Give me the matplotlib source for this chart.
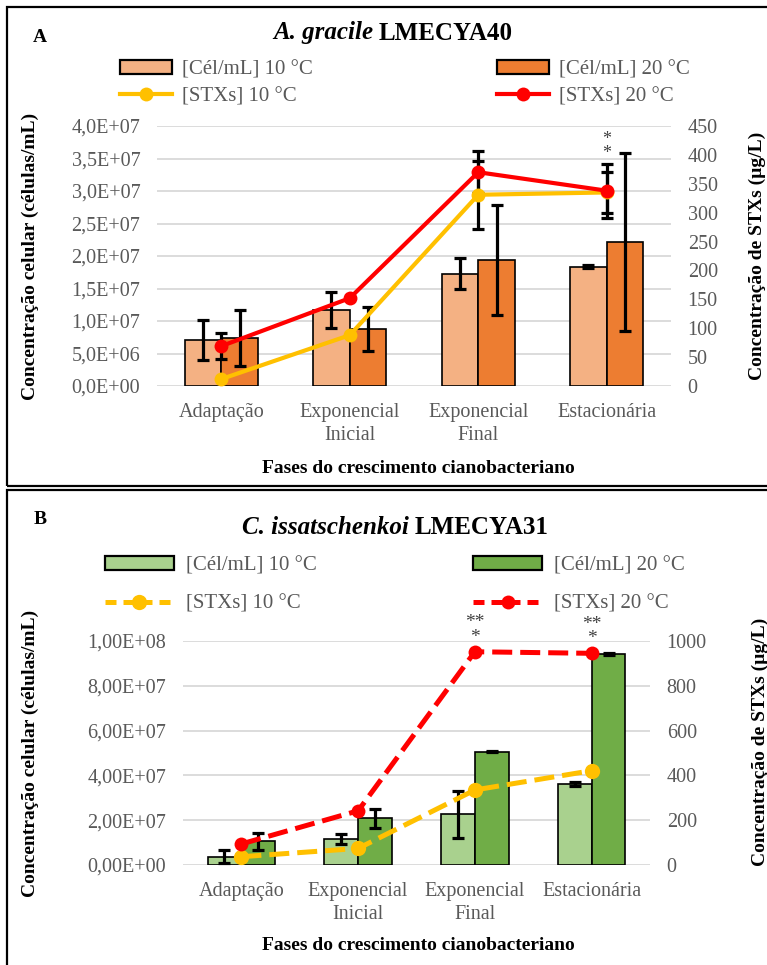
import numpy as np
import matplotlib
matplotlib.use("Agg")
import matplotlib.pyplot as plt
from matplotlib.patches import Rectangle, Patch
from matplotlib.lines import Line2D
from matplotlib.ticker import FuncFormatter

plt.rcParams["font.family"] = ["Liberation Serif", "DejaVu Serif"]

W, H = 767, 965

phases = ["Adaptação", "Exponencial\nInicial", "Exponencial\nFinal", "Estacionária"]

# painel A - A. gracile LMECYA40
cel10_a = [7.1e6, 1.17e7, 1.73e7, 1.835e7]
cel10_a_err = [3.1e6, 2.8e6, 2.35e6, 2.0e5]
cel20_a = [7.4e6, 8.8e6, 1.94e7, 2.215e7]
cel20_a_err = [4.3e6, 3.4e6, 8.5e6, 1.37e7]
stx10_a = [12, 88, 331, 335]
stx10_a_err = [0, 0, 59, 36]
stx20_a = [69, 152, 370, 338]
stx20_a_err = [22, 0, 36, 47]

# painel B - C. issatschenkoi LMECYA31
cel10_b = [3.7e6, 1.15e7, 2.26e7, 3.62e7]
cel10_b_err = [3.0e6, 2.2e6, 1.05e7, 1.0e6]
cel20_b = [1.06e7, 2.08e7, 5.06e7, 9.42e7]
cel20_b_err = [3.7e6, 4.2e6, 3.0e5, 3.0e5]
stx10_b = [37, 74, 335, 421]
stx20_b = [94, 242, 952, 945]

GRAY = "#595959"


def px_box(x0, y0, x1, y1):
    return [x0 / W, 1 - y1 / H, (x1 - x0) / W, (y1 - y0) / H]


def sci_fmt(decimals):
    return FuncFormatter(lambda v, p: f"{v:.{decimals}E}".replace(".", ","))


def style_axes(ax, ax2):
    for a in (ax, ax2):
        for s in a.spines.values():
            s.set_visible(False)
        a.tick_params(length=0, labelsize=14.5, labelcolor=GRAY)
    ax.tick_params(axis="y", pad=12)
    ax2.tick_params(axis="y", pad=12)
    ax.tick_params(axis="x", pad=12)
    ax.set_axisbelow(True)
    ax.grid(axis="y", color="#D9D9D9", lw=1.3)
    ax.set_xticks(range(len(phases)))
    ax.set_xticklabels(phases, linespacing=1.3)
    ax.set_xlim(-0.5, len(phases) - 0.5)


def draw_bars(ax, v10, e10, v20, e20, c10, c20, w):
    x = np.arange(len(phases))
    ax.bar(x - w / 2, v10, w, color=c10, edgecolor="black", lw=1.2, zorder=2)
    ax.bar(x + w / 2, v20, w, color=c20, edgecolor="black", lw=1.2, zorder=2)
    ek = dict(fmt="none", ecolor="black", elinewidth=2.3, capsize=4.5, capthick=2.3, zorder=3)
    ax.errorbar(x - w / 2, v10, yerr=e10, **ek)
    ax.errorbar(x + w / 2, v20, yerr=e20, **ek)


def title(xc, yc, italic, rest):
    t1 = fig.text(0, 0, italic, fontsize=18, fontweight="bold", fontstyle="italic",
                  ha="left", va="center")
    t2 = fig.text(0, 0, rest, fontsize=18, fontweight="bold", ha="left", va="center")
    r = fig.canvas.get_renderer()
    w1 = t1.get_window_extent(r).width
    w2 = t2.get_window_extent(r).width
    gap = 6
    x0 = xc - (w1 + gap + w2) / 2
    t1.set_position((x0 / W, 1 - yc / H))
    t2.set_position(((x0 + w1 + gap) / W, 1 - yc / H))


fig = plt.figure(figsize=(W / 100, H / 100), dpi=100)

# molduras dos paineis
fig.patches.append(Rectangle((7 / W, 1 - 485.5 / H), 1.1, 478.5 / H, transform=fig.transFigure,
                             fill=False, ec="black", lw=1.6))
fig.patches.append(Rectangle((7 / W, -0.05), 1.1, 1 - 490 / H + 0.05, transform=fig.transFigure,
                             fill=False, ec="black", lw=1.6))

# ---------- painel A ----------
axA = fig.add_axes(px_box(157, 126, 671, 386))
axA2 = axA.twinx()
style_axes(axA, axA2)
draw_bars(axA, cel10_a, cel10_a_err, cel20_a, cel20_a_err, "#F4B183", "#ED7D31", 0.285)
axA.set_ylim(0, 4.0e7)
axA.set_yticks(np.arange(0, 4.01e7, 5e6))
axA.yaxis.set_major_formatter(sci_fmt(1))
axA2.set_ylim(0, 450)
axA2.set_yticks(np.arange(0, 451, 50))

xa = np.arange(len(phases))
sel = np.array(stx20_a_err) > 0
axA2.errorbar(xa[sel], np.array(stx20_a)[sel], yerr=np.array(stx20_a_err)[sel], fmt="none",
              ecolor="black", elinewidth=2.3, capsize=4.5, capthick=2.3, zorder=2)
sel = np.array(stx10_a_err) > 0
axA2.errorbar(xa[sel], np.array(stx10_a)[sel], yerr=np.array(stx10_a_err)[sel], fmt="none",
              ecolor="black", elinewidth=2.3, capsize=4.5, capthick=2.3, zorder=2)
axA2.plot(xa, stx10_a, color="#FFC000", lw=3, marker="o", ms=10, mew=0, zorder=3)
axA2.plot(xa, stx20_a, color="#FF0000", lw=3, marker="o", ms=10, mew=0, zorder=4)
axA2.text(3, 415, "*\n*", ha="center", va="center", fontsize=13, color="#404040",
          linespacing=0.75)

handlesA = [
    Patch(fc="#F4B183", ec="black", lw=1.6),
    Line2D([], [], color="#FFC000", lw=3, marker="o", ms=10, mew=0),
    Patch(fc="#ED7D31", ec="black", lw=1.6),
    Line2D([], [], color="#FF0000", lw=3, marker="o", ms=10, mew=0),
]
labelsA = ["[Cél/mL] 10 °C", "[STXs] 10 °C", "[Cél/mL] 20 °C", "[STXs] 20 °C"]
legA = fig.legend(handlesA, labelsA, ncol=2, loc="upper left", bbox_to_anchor=(120 / W, 1 - 60 / H),
                  frameon=False, fontsize=15, labelcolor=GRAY, handlelength=2.5, handleheight=0.65,
                  handletextpad=0.5, columnspacing=8.8, labelspacing=0.38, numpoints=1,
                  borderpad=0, borderaxespad=0)

title(393, 33, "A. gracile", "LMECYA40")
fig.text(40 / W, 1 - 37 / H, "A", fontsize=14, fontweight="bold", ha="center", va="center")
fig.text(30 / W, 1 - 256 / H, "Concentração celular (células/mL)", rotation=90, fontsize=14,
         fontweight="bold", ha="center", va="center")
fig.text(757 / W, 1 - 256 / H, "Concentração de STXs (µg/L)", rotation=90, fontsize=14,
         fontweight="bold", ha="center", va="center")
fig.text(418 / W, 1 - 468 / H, "Fases do crescimento cianobacteriano", fontsize=14,
         fontweight="bold", ha="center", va="center")

# ---------- painel B ----------
axB = fig.add_axes(px_box(183, 641, 650, 865))
axB2 = axB.twinx()
style_axes(axB, axB2)
draw_bars(axB, cel10_b, cel10_b_err, cel20_b, cel20_b_err, "#A9D18E", "#70AD47", 0.29)
axB.set_ylim(0, 1.0e8)
axB.set_yticks(np.arange(0, 1.01e8, 2e7))
axB.yaxis.set_major_formatter(sci_fmt(2))
axB2.set_ylim(0, 1000)
axB2.set_yticks(np.arange(0, 1001, 200))

xb = np.arange(len(phases))
dash = (4, 1.6)
axB2.plot(xb, stx10_b, color="#FFC000", lw=3.6, dashes=dash, marker="o", ms=11, mew=0, zorder=3)
axB2.plot(xb, stx20_b, color="#FF0000", lw=3.6, dashes=dash, marker="o", ms=10, mew=0, zorder=4)
for i in (2, 3):
    axB2.text(i, stx20_b[i] + 97, "**\n*", ha="center", va="center", fontsize=14,
              color="#404040", linespacing=0.8)

handlesB = [
    Patch(fc="#A9D18E", ec="black", lw=1.6),
    Line2D([], [], color="#FFC000", lw=3.6, dashes=(2.2, 1.4), marker="o", ms=11, mew=0),
    Patch(fc="#70AD47", ec="black", lw=1.6),
    Line2D([], [], color="#FF0000", lw=3.6, dashes=(2.2, 1.4), marker="o", ms=10, mew=0),
]
legB = fig.legend(handlesB, labelsA, ncol=2, loc="upper left", bbox_to_anchor=(105 / W, 1 - 556 / H),
                  frameon=False, fontsize=15, labelcolor=GRAY, handlelength=3.3, handleheight=0.65,
                  handletextpad=0.6, columnspacing=7.5, labelspacing=0.92, numpoints=1,
                  borderpad=0, borderaxespad=0)

title(395, 527, "C. issatschenkoi", "LMECYA31")
fig.text(40 / W, 1 - 520 / H, "B", fontsize=14, fontweight="bold", ha="center", va="center")
fig.text(30 / W, 1 - 753 / H, "Concentração celular (células/mL)", rotation=90, fontsize=14,
         fontweight="bold", ha="center", va="center")
fig.text(760 / W, 1 - 742 / H, "Concentração de STXs (µg/L)", rotation=90, fontsize=14,
         fontweight="bold", ha="center", va="center")
fig.text(418 / W, 1 - 945 / H, "Fases do crescimento cianobacteriano", fontsize=14,
         fontweight="bold", ha="center", va="center")

fig.savefig("out.png", dpi=100)
